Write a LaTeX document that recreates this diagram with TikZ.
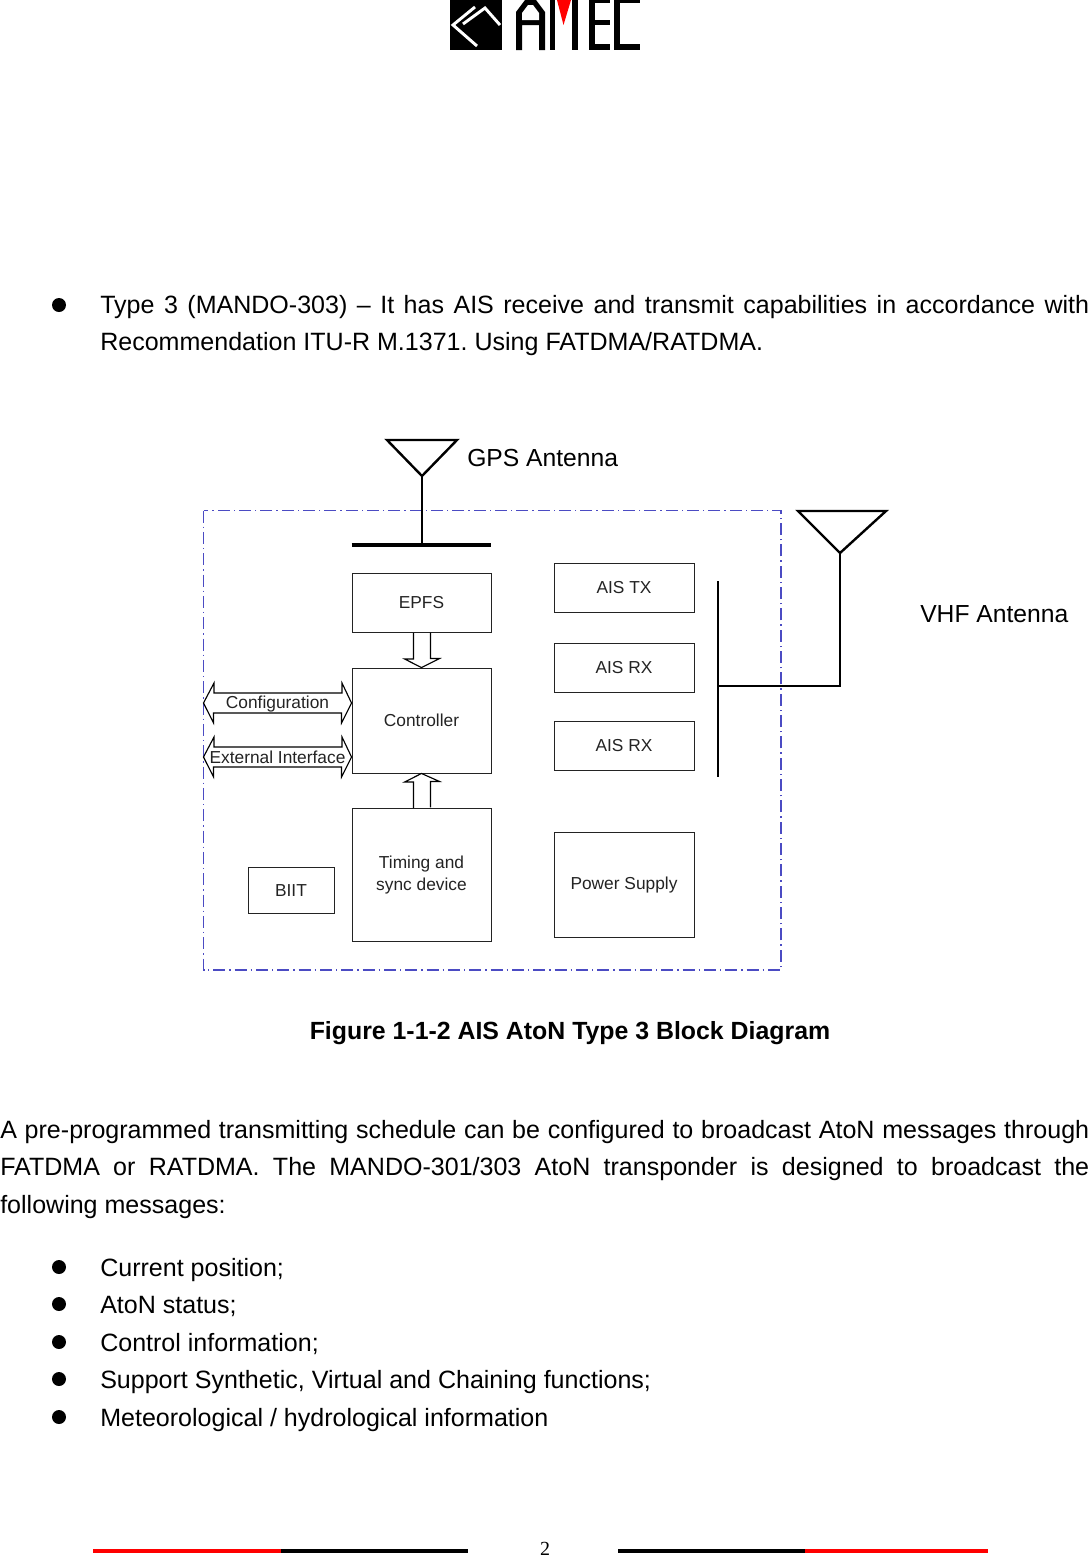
\documentclass[tikz,border=0pt]{standalone}
\usepackage{fontspec}
\setmainfont{Liberation Sans}
\newfontfamily\pageserif{Liberation Serif}
\definecolor{framecol}{RGB}{75,75,195}
\definecolor{linecol}{RGB}{35,35,35}
\def\px{0.75pt}
\tikzset{
  bodytext/.style={anchor=north west, inner sep=0pt, align=justify, font=\fontsize{18.78}{28.1}\selectfont\frenchspacing},
  bodyline/.style={anchor=base west, inner sep=0pt, font=\fontsize{18.78}{28.1}\selectfont},
  aeriallabel/.style={anchor=base west, inner sep=0pt, font=\fontsize{18.5}{28.1}\selectfont},
  bulletdot/.style={circle, fill=black, inner sep=0pt, minimum size=14*\px},
  blockbox/.style={draw=linecol, line width=0.7pt, inner sep=0pt, align=center,
    font=\fontsize{13}{16.1}\selectfont, text=linecol},
  arrowlabel/.style={inner sep=0pt, font=\fontsize{13}{16}\selectfont, text=linecol},
  fatarrow/.style={draw=black, line width=0.85pt, line join=miter},
  aerial/.style={draw=black, line width=1.8pt}
}
\begin{document}
\begin{tikzpicture}[x=0.75pt, y=-0.75pt]
  \useasboundingbox (0,0) rectangle (1089,1557);

  % Logo
  \fill (450,0) rectangle (502,50);
  \draw[white, line width=2.2pt] (477,46) -- (453,25) -- (475,7);
  \draw[white, line width=2.2pt] (463,24) -- (485,8) -- (500,25);
  \fill (516,50) -- (516,12) -- (525,0) -- (536,0) -- (545,12) -- (545,50) -- (539,50)
    -- (539,25) -- (522,25) -- (522,50) -- cycle;
  \fill[white] (522,20) -- (522,13) -- (528,5) -- (533,5) -- (539,13) -- (539,20) -- cycle;
  \fill (550,0) rectangle (555,50);
  \fill (572,0) rectangle (578,50);
  \fill[red] (557,0) -- (571,0) -- (563.5,25) -- cycle;
  \fill (589,0) rectangle (595,50);
  \fill (589,0) rectangle (610,3);
  \fill (589,20) rectangle (610,25);
  \fill (589,44) rectangle (610,50);
  \fill (614,0) rectangle (620,50);
  \fill (614,0) rectangle (640,3);
  \fill (614,44) rectangle (640,50);

  % Top paragraph
  \node[bulletdot] (dota) at (59,305) {};
  \node[bodytext, text width=989*\px] (typethree) at (100,295)
    {Type 3 (MANDO-303) -- It has AIS receive and transmit capabilities in accordance with
     Recommendation ITU-R M.1371. Using FATDMA/RATDMA.};

  % Outer frame
  \draw[framecol, line width=0.8pt, dash pattern=on 9pt off 3pt on 1pt off 3pt]
    (203.5,510.5) rectangle (781,970);

  % Blocks
  \node[blockbox, minimum width=139*\px, minimum height=59*\px] (epfs) at (421.5,603) {EPFS};
  \node[blockbox, minimum width=139*\px, minimum height=105*\px] (controller) at (421.5,720.5) {Controller};
  \node[blockbox, minimum width=139*\px, minimum height=133*\px] (timing) at (421.5,875) {\raisebox{-1pt}{\parbox{6em}{\centering Timing and\\sync device}}};
  \node[blockbox, minimum width=86*\px, minimum height=46*\px] (biit) at (291,890.5) {BIIT};
  \node[blockbox, minimum width=140*\px, minimum height=49*\px] (aistx) at (624,588) {AIS TX};
  \node[blockbox, minimum width=140*\px, minimum height=49*\px] (aisrxa) at (624,668) {AIS RX};
  \node[blockbox, minimum width=140*\px, minimum height=49*\px] (aisrxb) at (624,745.5) {AIS RX};
  \node[blockbox, minimum width=140*\px, minimum height=105*\px] (power) at (624,885) {\raisebox{-1pt}{Power Supply}};

  % Hollow arrows into the controller
  \draw[fatarrow] (epfs.south) ++(-8,0) -- ++(0,26) -- ++(-9,0) -- (controller.north)
    -- ++(18,-9) -- ++(-9,0) -- ++(0,-26);
  \draw[fatarrow] (timing.north) ++(-8,0) -- ++(0,-26) -- ++(-9,0) -- (controller.south)
    -- ++(18,8) -- ++(-9,0) -- ++(0,26);

  % Double arrows on the left
  \coordinate (cfgend) at (203.5,703);
  \coordinate (extend) at (203.5,757);
  \draw[fatarrow] (cfgend) -- ++(10.5,-20) -- ++(0,10) -- ++(128,0) -- ++(0,-10)
    -- (controller.west |- cfgend) -- ++(-10,20) -- ++(0,-10) -- ++(-128,0) -- ++(0,10) -- cycle;
  \draw[fatarrow] (extend) -- ++(10.5,-20) -- ++(0,10) -- ++(128,0) -- ++(0,-10)
    -- (controller.west |- extend) -- ++(-10,20) -- ++(0,-10) -- ++(-128,0) -- ++(0,10) -- cycle;
  \node[arrowlabel] (cfglabel) at (277.5,704.5) {Configuration};
  \node[arrowlabel] (extlabel) at (277.5,757) {External Interface};

  % GPS antenna
  \coordinate (gpstip) at (422,476);
  \coordinate (gpsbar) at (422,545);
  \coordinate (gpsleft) at (387,440);
  \coordinate (gpsright) at (457,440);
  \draw[aerial] (gpsleft) -- (gpsright) -- (gpstip) -- cycle;
  \draw[aerial] (gpstip) -- (gpsbar);
  \draw[black, line width=2.3pt] (gpsbar -| epfs.west) -- (gpsbar -| epfs.east);
  \node[aeriallabel] (gpslabel) at (467,466) {GPS Antenna};

  % VHF antenna
  \coordinate (vhftip) at (840,553);
  \coordinate (vhfleft) at (798,511);
  \coordinate (vhfright) at (886,511);
  \coordinate (vhfjoin) at (718,686);
  \coordinate (bustop) at (718,581);
  \coordinate (busbot) at (718,777);
  \draw[aerial] (vhfleft) -- (vhfright) -- (vhftip) -- cycle;
  \draw[aerial] (vhftip) -- (vhftip |- vhfjoin) -- (vhfjoin);
  \draw[aerial] (bustop) -- (busbot);
  \node[aeriallabel] (vhflabel) at (920,622) {VHF Antenna};

  % Caption
  \node[bodyline, anchor=base, font=\fontsize{18.65}{28.1}\selectfont\bfseries] (caption) at (570,1039)
    {Figure 1-1-2 AIS AtoN Type 3 Block Diagram};

  % Lower paragraph
  \node[bodytext, text width=1089*\px] (schedule) at (0,1120)
    {A pre-programmed transmitting schedule can be configured to broadcast AtoN messages through
     FATDMA or RATDMA. The MANDO-301/303 AtoN transponder is designed to broadcast the\linebreak
     following messages:};

  % Bullet list
  \node[bulletdot] (dotb) at (59,1267) {};
  \node[bodyline] (itema) at (100,1276) {Current position;};
  \node[bulletdot] (dotc) at (59,1304) {};
  \node[bodyline] (itemb) at (100,1313) {AtoN status;};
  \node[bulletdot] (dotd) at (59,1342) {};
  \node[bodyline] (itemc) at (100,1351) {Control information;};
  \node[bulletdot] (dote) at (59,1379) {};
  \node[bodyline] (itemd) at (100,1388) {Support Synthetic, Virtual and Chaining functions;};
  \node[bulletdot] (dotf) at (59,1417) {};
  \node[bodyline] (iteme) at (100,1426) {Meteorological / hydrological information};

  % Footer
  \fill[red] (93,1549) rectangle (281,1553);
  \fill[black] (281,1549) rectangle (468,1553);
  \fill[black] (618,1549) rectangle (805,1553);
  \fill[red] (805,1549) rectangle (988,1553);
  \node[inner sep=0pt, anchor=base, font=\fontsize{15}{18}\selectfont\pageserif] (pagenum) at (545,1555) {2};
\end{tikzpicture}
\end{document}
